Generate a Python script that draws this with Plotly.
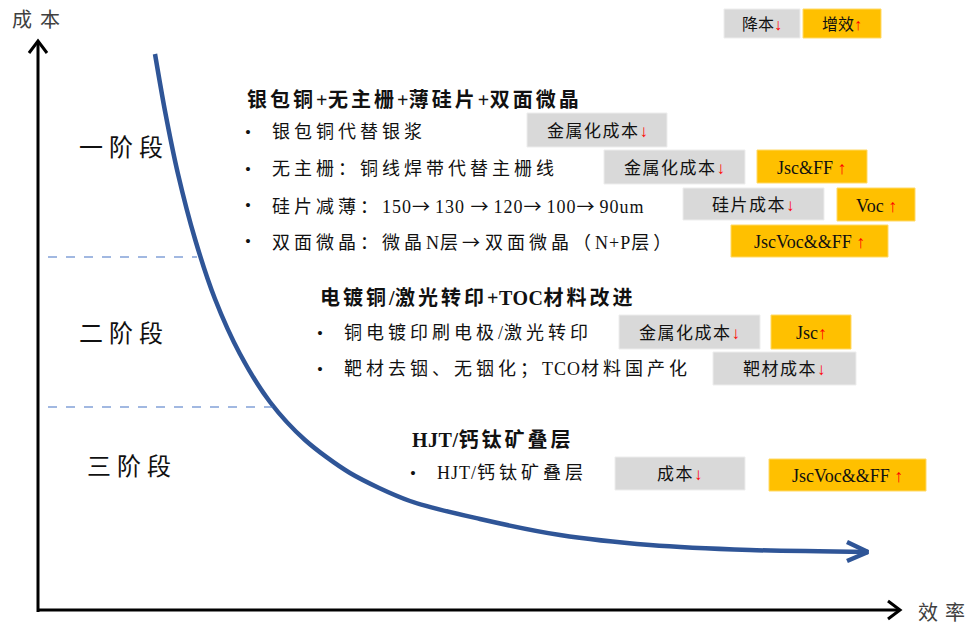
import re
import plotly.graph_objects as go

# ---- data -------------------------------------------------------------
# cost-efficiency curve (efficiency on x, cost on y, display units)
efficiency = [155, 165, 178, 195, 215, 240, 270, 305, 350, 410, 480, 560, 650, 750, 868]
cost = [574, 517, 454, 389, 329, 274, 226, 188, 155, 127, 109, 93, 83, 78, 76]

stages = ["一阶段", "二阶段", "三阶段"]

headings = ["银包铜+无主栅+薄硅片+双面微晶", "电镀铜/激光转印+TOC材料改进", "HJT/钙钛矿叠层"]

items = [
    ["银包铜代替银浆", "无主栅：铜线焊带代替主栅线",
     "硅片减薄：150→130 →120→100→90um", "双面微晶：微晶N层→双面微晶（N+P层）"],
    ["铜电镀印刷电极/激光转印", "靶材去铟、无铟化；TCO材料国产化"],
    ["HJT/钙钛矿叠层"],
]

# cost-down tags (grey) and efficiency-up tags (yellow) per item, None = no tag
cost_tags = [["金属化成本", "金属化成本", "硅片成本", None], ["金属化成本", "靶材成本"], ["成本"]]
eff_tags = [[None, "Jsc&FF", "Voc", "JscVoc&&FF"], ["Jsc", None], ["JscVoc&&FF"]]

legend_labels = ["降本", "增效"]
axis_labels = ["成本", "效率"]

# ---- layout helpers ---------------------------------------------------
W, H = 979, 628
FONT = "Liberation Serif, Noto Sans CJK SC, serif"
CJK_FONT = "Noto Sans CJK SC"
GREY = "#D9D9D9"
GOLD = "#FFC000"
BLUE = "#2F5597"
DOWN = "<span style='color:#FF0000'>↓</span>"
UP = "<span style='color:#FF0000'>↑</span>"

CJK_RUN = re.compile(r"([\u3000-\u303f\u4e00-\u9fff\uff00-\uffef]+|→)")


def Y(py):
    return H - py


def spaced(s, cjk_px, latin_px=0.0, arrow_px=3):
    """Wrap CJK runs, arrows and latin runs in spans with their own letter spacing."""
    out = []
    for part in CJK_RUN.split(s):
        if not part:
            continue
        if part == "→":
            out.append(f"<span style='font-family:{CJK_FONT};letter-spacing:{arrow_px}px'>→</span>")
        elif CJK_RUN.fullmatch(part):
            out.append(f"<span style='letter-spacing:{cjk_px}px'>{part}</span>")
        elif latin_px:
            out.append(f"<span style='letter-spacing:{latin_px}px'>{part}</span>")
        else:
            out.append(part)
    return "".join(out)


fig = go.Figure()
shapes = []
annotations = []


def text(x, py, s, size=17, anchor="left", color="#111111"):
    annotations.append(dict(x=x, y=Y(py), text=s, showarrow=False, xanchor=anchor,
                            yanchor="middle", font=dict(family=FONT, size=size, color=color)))


def tag(x0, py0, x1, py1, s, fill, size=17):
    shapes.append(dict(type="rect", x0=x0, x1=x1, y0=Y(py1), y1=Y(py0),
                       fillcolor=fill, line=dict(color="#EDEDED" if fill == GREY else "#FFD966", width=1),
                       layer="below"))
    text((x0 + x1) / 2, (py0 + py1) / 2 + 1, s, size=size, anchor="center")


# curve
fig.add_trace(go.Scatter(x=efficiency, y=cost, mode="lines",
                         line=dict(color=BLUE, width=4.5, shape="spline", smoothing=0.8),
                         hoverinfo="skip", showlegend=False))
# arrow head at the end of the curve
ex, ey = efficiency[-1], cost[-1]
fig.add_trace(go.Scatter(x=[ex - 21, ex, ex - 21], y=[ey + 10, ey, ey - 9], mode="lines",
                         line=dict(color=BLUE, width=4.5), hoverinfo="skip", showlegend=False))

# axes with arrows
AX = dict(color="#000000", width=3)
shapes.append(dict(type="line", x0=38, x1=38, y0=Y(612), y1=Y(42), line=AX))
shapes.append(dict(type="path", path=f"M 29 {Y(53)} L 38 {Y(41)} L 47 {Y(53)}", line=AX))
shapes.append(dict(type="line", x0=37, x1=899, y0=Y(610), y1=Y(610), line=AX))
shapes.append(dict(type="path", path=f"M 888 {Y(601)} L 900 {Y(610)} L 888 {Y(619)}", line=AX))
text(10, 20, spaced(axis_labels[0], 8), size=20, color="#404040")
text(916, 613, spaced(axis_labels[1], 7), size=20, color="#404040")

# stage separators
DASH = dict(color="#4472C4", width=1.2, dash="dash")
shapes.append(dict(type="line", x0=48, x1=197, y0=Y(257), y1=Y(257), line=DASH))
shapes.append(dict(type="line", x0=48, x1=276, y0=Y(407), y1=Y(407), line=DASH))

# stage names
for s, (sx, sy) in zip(stages, [(77, 148), (77, 334), (85, 467)]):
    text(sx, sy, spaced(s, 6), size=24)

# legend tags
tag(724, 9, 800, 38, legend_labels[0] + DOWN, GREY, size=16)
tag(803, 9, 881, 38, legend_labels[1] + UP, GOLD, size=16)

# sections
head_pos = [(245, 100), (318, 298), (410, 440)]
bullet_x = [248, 320, 413]
row_y = [[132, 169, 205, 241], [333, 369], [473]]
cost_box = [[(527, 113, 667, 147), (604, 150, 745, 184), (683, 188, 824, 220), None],
            [(619, 315, 760, 349), (713, 352, 856, 385)],
            [(615, 457, 745, 490)]]
eff_box = [[None, (757, 150, 867, 183), (837, 188, 915, 221), (731, 225, 888, 257)],
           [(771, 315, 851, 349), None],
           [(769, 459, 926, 491)]]

for k, head in enumerate(headings):
    hx, hy = head_pos[k]
    text(hx, hy, "<b>" + spaced(head, 3, 0.5) + "</b>", size=20)
    for j, item in enumerate(items[k]):
        ry = row_y[k][j]
        text(bullet_x[k], ry, "•", size=17, anchor="center")
        text(bullet_x[k] + 22, ry, spaced(item, 4, 1, 5), size=18)
        if cost_tags[k][j] is not None:
            x0, y0, x1, y1 = cost_box[k][j]
            tag(x0, y0, x1, y1, spaced(cost_tags[k][j], 1.5) + DOWN, GREY)
        if eff_tags[k][j] is not None:
            x0, y0, x1, y1 = eff_box[k][j]
            label = eff_tags[k][j] + (UP if eff_tags[k][j] == "Jsc" else " " + UP)
            tag(x0, y0, x1, y1, label, GOLD, size=18)

fig.update_layout(
    width=W, height=H,
    margin=dict(l=0, r=0, t=0, b=0),
    paper_bgcolor="white", plot_bgcolor="white",
    xaxis=dict(range=[0, W], visible=False, fixedrange=True),
    yaxis=dict(range=[0, H], visible=False, fixedrange=True),
    shapes=shapes, annotations=annotations, showlegend=False,
)

fig.write_html("out.html")
